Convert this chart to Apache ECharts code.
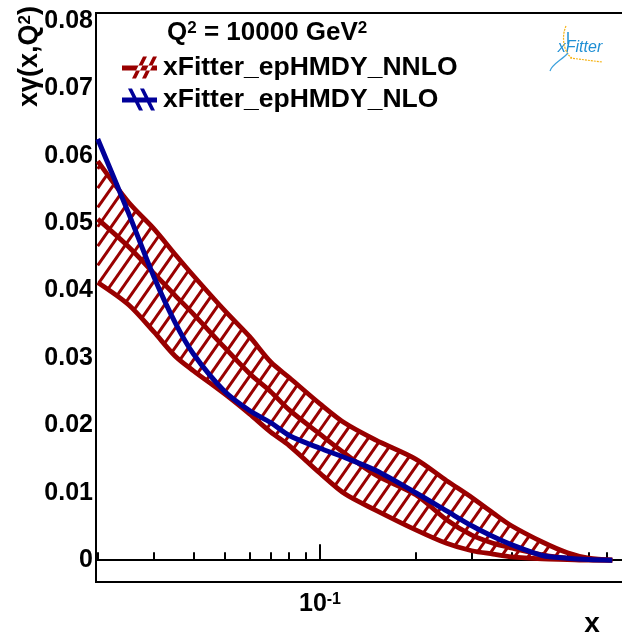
<!DOCTYPE html>
<html><head><meta charset="utf-8">
<script src="https://cdn.jsdelivr.net/npm/echarts@6/dist/echarts.min.js"></script>
<style>html,body{margin:0;padding:0;background:#fff;overflow:hidden}#c{width:622px;height:636px}</style>
</head><body><div id="c"></div>
<script>
// ---- data ----
const xValues     = [0.02, 0.025, 0.03, 0.035, 0.04, 0.05, 0.06, 0.07, 0.08, 0.1, 0.12, 0.15, 0.2, 0.25, 0.3, 0.35, 0.4, 0.5, 0.6, 0.7, 0.83];
const nnloUpper   = [0.0592, 0.0531, 0.0492, 0.0454, 0.0422, 0.0371, 0.0332, 0.0294, 0.0271, 0.0232, 0.0203, 0.0178, 0.0150, 0.0118, 0.0093, 0.0070, 0.0051, 0.0027, 0.0011, 0.0003, 0.0000];
const nnloCentral = [0.0506, 0.0465, 0.0426, 0.0393, 0.0365, 0.0316, 0.0277, 0.0250, 0.0223, 0.0187, 0.0158, 0.0126, 0.0097, 0.0060, 0.0037, 0.0025, 0.0018, 0.0008, 0.0003, 0.0001, 0.0000];
const nnloLower   = [0.0412, 0.0379, 0.0339, 0.0303, 0.0281, 0.0247, 0.0217, 0.0190, 0.0170, 0.0129, 0.0098, 0.0074, 0.0045, 0.0025, 0.0014, 0.0009, 0.0005, 0.0002, 0.0001, 0.0000, 0.0000];
const nloCentral  = [0.0625, 0.0515, 0.0421, 0.0353, 0.0306, 0.0251, 0.0222, 0.0204, 0.0185, 0.0166, 0.0152, 0.0133, 0.0100, 0.0073, 0.0051, 0.0035, 0.0023, 0.0007, 0.0003, 0.0001, 0.0000];
const seriesNames = ['xFitter_epHMDY_NNLO', 'xFitter_epHMDY_NLO'];
const yTickValues = [0, 0.01, 0.02, 0.03, 0.04, 0.05, 0.06, 0.07, 0.08];
const yTickLabels = ['0', '0.01', '0.02', '0.03', '0.04', '0.05', '0.06', '0.07', '0.08'];
const yMinorTicks = [-0.002,0.002,0.004,0.006,0.008,0.012,0.014,0.016,0.018,0.022,0.024,0.026,0.028,0.032,0.034,0.036,0.038,0.042,0.044,0.046,0.048,0.052,0.054,0.056,0.058,0.062,0.064,0.066,0.068,0.072,0.074,0.076,0.078];
const xMajorTicks = [0.1];
const xTickLabels = [{base: '10', exp: '-1'}];
const xMinorTicks = [0.02,0.03,0.04,0.05,0.06,0.07,0.08,0.09,0.2,0.3,0.4,0.5,0.6,0.7,0.8,0.9];
const xRange = [0.01975, 1];
const yRange = [-0.00324, 0.08119];

// ---- styles ----
const FAM = '"Liberation Sans", Arial, Helvetica, sans-serif';
const RED = '#990000', BLUE = '#000099';
const lg = v => Math.log10(v);
const HATCH_ANGLE = 55 * Math.PI / 180, HATCH_DX = 13.5, HATCH_W = 3;

// hatch segments clipped to the band polygon given in pixels (rendering helper)
function hatchSegments(poly) {
  const sn = Math.sin(HATCH_ANGLE), cs = Math.cos(HATCH_ANGLE);
  const n = [sn, cs], d = [cs, -sn];
  const step = HATCH_DX * sn;
  const proj = p => p[0] * n[0] + p[1] * n[1];
  let kmin = Infinity, kmax = -Infinity;
  poly.forEach(p => { const k = proj(p); kmin = Math.min(kmin, k); kmax = Math.max(kmax, k); });
  const segs = [];
  for (let k = Math.ceil(kmin / step) * step; k <= kmax; k += step) {
    const hits = [];
    for (let i = 0; i < poly.length; i++) {
      const a = poly[i], b = poly[(i + 1) % poly.length];
      const fa = proj(a) - k, fb = proj(b) - k;
      if ((fa < 0 && fb >= 0) || (fa >= 0 && fb < 0)) {
        const t = fa / (fa - fb);
        hits.push([a[0] + t * (b[0] - a[0]), a[1] + t * (b[1] - a[1])]);
      }
    }
    hits.sort((p, q) => (p[0] * d[0] + p[1] * d[1]) - (q[0] * d[0] + q[1] * d[1]));
    for (let j = 0; j + 1 < hits.length; j += 2) segs.push([hits[j], hits[j + 1]]);
  }
  return segs;
}

const pts = arr => xValues.map((x, i) => [lg(x), arr[i]]);
const SM = 0.3;

const chart = echarts.init(document.getElementById('c'), null, {renderer: 'canvas'});
const redIcon = 'path://M0,9 L35,9 L35,14 L0,14 Z M10,22 L14,22 L25,0 L21,0 Z M20,22 L24,22 L35,0 L31,0 Z';
const blueIcon = 'path://M0,9 L35,9 L35,14 L0,14 Z M6,0 L10,0 L21,22 L17,22 Z M18,0 L22,0 L33,22 L29,22 Z';

const tickLine = {color: '#000', width: 2};
chart.setOption({
  animation: false,
  backgroundColor: '#fff',
  grid: {left: 96, right: -16, top: 13, bottom: 54, show: true, borderColor: '#000', borderWidth: 2, outerBoundsMode: 'none', containLabel: false},
  legend: {
    orient: 'vertical', left: 122, top: 54, padding: 0, itemGap: 5, itemWidth: 35, itemHeight: 22,
    selectedMode: false,
    itemStyle: {borderWidth: 0},
    textStyle: {fontFamily: FAM, fontWeight: 'bold', fontSize: 26.5, color: '#000', padding: [0,0,0,1]},
    data: [
      {name: seriesNames[0], icon: redIcon, itemStyle: {color: RED, borderWidth: 0}},
      {name: seriesNames[1], icon: blueIcon, itemStyle: {color: BLUE, borderWidth: 0}}
    ]
  },
  xAxis: [{
    type: 'value', min: lg(xRange[0]), max: lg(xRange[1]), position: 'bottom',
    splitLine: {show: false},
    axisLine: {show: true, lineStyle: tickLine},
    axisTick: {show: true, inside: true, length: 16, lineStyle: tickLine, customValues: xMajorTicks.map(lg)},
    axisLabel: {show: true, margin: 10, customValues: xMajorTicks.map(lg),
      formatter: v => { const i = xMajorTicks.findIndex(t => Math.abs(lg(t) - v) < 1e-9); const t = xTickLabels[i]; return '{a|' + t.base + '}{s|' + t.exp + '}'; },
      rich: {a: {fontFamily: FAM, fontWeight: 'bold', fontSize: 25, color: '#000'},
             s: {fontFamily: FAM, fontWeight: 'bold', fontSize: 16, color: '#000', verticalAlign: 'top'}}}
  }, {
    type: 'value', min: lg(xRange[0]), max: lg(xRange[1]), position: 'bottom',
    splitLine: {show: false}, axisLine: {show: false},
    axisTick: {show: true, inside: true, length: 8, lineStyle: tickLine, customValues: xMinorTicks.map(lg)},
    axisLabel: {show: false}
  }],
  yAxis: [{
    type: 'value', min: yRange[0], max: yRange[1], position: 'left',
    splitLine: {show: false},
    axisLine: {show: true, lineStyle: tickLine},
    axisTick: {show: true, inside: true, length: 16, lineStyle: tickLine, customValues: yTickValues},
    axisLabel: {show: true, margin: 3, customValues: yTickValues,
      formatter: v => yTickLabels[yTickValues.findIndex(t => Math.abs(t - v) < 1e-9)],
      fontFamily: FAM, fontWeight: 'bold', fontSize: 25, color: '#000'}
  }, {
    type: 'value', min: yRange[0], max: yRange[1], position: 'left', offset: 0,
    splitLine: {show: false}, axisLine: {show: false},
    axisTick: {show: true, inside: true, length: 9, lineStyle: tickLine, customValues: yMinorTicks},
    axisLabel: {show: false}
  }],
  series: [
    {name: seriesNames[0], type: 'line', data: pts(nnloUpper), symbol: 'none', smooth: SM, color: RED, lineStyle: {width: 4.8, color: RED}, z: 2},
    {name: seriesNames[0], type: 'line', data: pts(nnloCentral), symbol: 'none', smooth: SM, color: RED, lineStyle: {width: 4.8, color: RED}, z: 2},
    {name: seriesNames[0], type: 'line', data: pts(nnloLower), symbol: 'none', smooth: SM, color: RED, lineStyle: {width: 4.8, color: RED}, z: 2},
    {name: seriesNames[1], type: 'line', data: pts(nloCentral), symbol: 'none', smooth: SM, color: BLUE, lineStyle: {width: 5, color: BLUE}, z: 3},
    {name: seriesNames[0], type: 'custom', coordinateSystem: 'cartesian2d', color: RED, z: 1, silent: true,
     data: [[lg(xValues[0]), nnloUpper[0]]], encode: {x: 0, y: 1},
     renderItem: (params, api) => {
       const poly = [];
       xValues.forEach((x, i) => poly.push(api.coord([lg(x), nnloUpper[i]])));
       for (let i = xValues.length - 1; i >= 0; i--) poly.push(api.coord([lg(xValues[i]), nnloLower[i]]));
       const children = hatchSegments(poly).map(s => ({type: 'line',
         shape: {x1: s[0][0], y1: s[0][1], x2: s[1][0], y2: s[1][1]},
         style: {stroke: RED, lineWidth: HATCH_W, lineCap: 'butt'}}));
       return {type: 'group', children};
     }}
  ],
  graphic: [
    {type: 'text', x: 167, y: 33, style: {text: '{a|Q}{s|2}{a| = 10000 GeV}{s|2}', verticalAlign: 'middle', align: 'left',
      rich: {a: {fontFamily: FAM, fontWeight: 'bold', fontSize: 26, fill: '#000'}, s: {fontFamily: FAM, fontWeight: 'bold', fontSize: 17, fill: '#000', verticalAlign: 'top'}}}},
    {type: 'text', x: 30, y: 107, rotation: Math.PI / 2, style: {text: '{a|xγ(x,Q}{s|2}{a|)}', verticalAlign: 'middle', align: 'left',
      rich: {a: {fontFamily: FAM, fontWeight: 'bold', fontSize: 27, fill: '#000'}, s: {fontFamily: FAM, fontWeight: 'bold', fontSize: 17, fill: '#000', verticalAlign: 'top'}}}},
    {type: 'text', x: 592, y: 624, style: {text: 'x', align: 'center', verticalAlign: 'middle', fontFamily: FAM, fontWeight: 'bold', fontSize: 28, fill: '#000'}},
    {type: 'text', x: 580, y: 48, style: {text: 'xFitter', align: 'center', verticalAlign: 'middle', fontFamily: FAM, fontStyle: 'italic', fontSize: 16, fill: '#1f8fd4'}},
    {type: 'bezierCurve', shape: {x1: 566, y1: 26, x2: 572, y2: 58, cpx1: 560, cpy1: 40, cpx2: 566, cpy2: 55}, style: {stroke: '#f5b316', lineWidth: 1.2, lineDash: [2, 1], fill: null}},
    {type: 'line', shape: {x1: 570, y1: 58, x2: 602, y2: 62}, style: {stroke: '#f5b316', lineWidth: 1.2, lineDash: [2, 1]}},
    {type: 'bezierCurve', shape: {x1: 550, y1: 71, x2: 568, y2: 53, cpx1: 552, cpy1: 64, cpx2: 562, cpy2: 60}, style: {stroke: '#3aa0dc', lineWidth: 1.2, fill: null}},
    {type: 'line', shape: {x1: 568, y1: 32, x2: 568, y2: 44}, style: {stroke: '#1f8fd4', lineWidth: 1.5}}
  ]
});
</script></body></html>
